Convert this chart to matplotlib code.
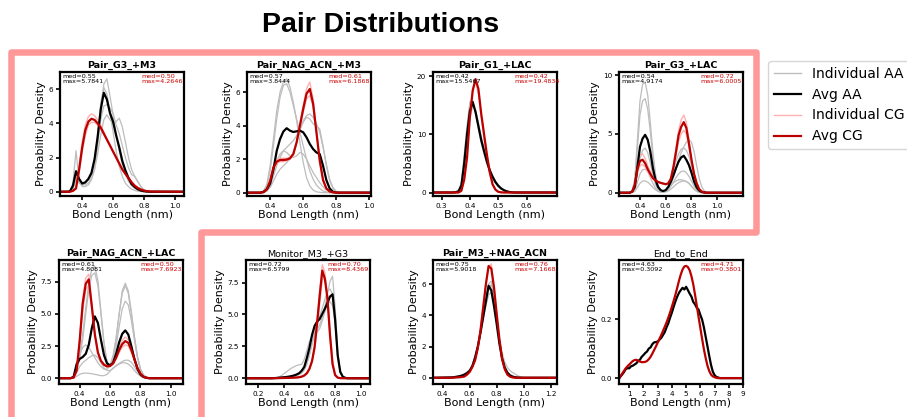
import matplotlib.pyplot as plt
from matplotlib.lines import Line2D

W, H = 907, 417

# ---- Pair_G3_+M3 ----
g3m3_x = [0.26, 0.30, 0.32, 0.34, 0.36, 0.38, 0.40, 0.42, 0.44, 0.46, 0.48, 0.50, 0.52, 0.54, 0.56,
          0.58, 0.60, 0.62, 0.64, 0.66, 0.68, 0.70, 0.72, 0.74, 0.76, 0.78, 0.80, 0.82, 0.84, 1.06]
g3m3_aa = [0, 0, 0.02, 0.35, 1.2, 0.75, 0.48, 0.55, 0.75, 1.1, 1.9, 3.2, 4.8, 5.7841, 5.4,
           4.6, 4.1, 3.3, 2.6, 1.8, 1.25, 0.8, 0.45, 0.28, 0.15, 0.07, 0.03, 0.01, 0, 0]
g3m3_cg = [0, 0, 0, 0.05, 0.2, 1.3, 2.6, 3.6, 4.1, 4.2646, 4.2, 4.0, 3.75, 3.4, 3.05,
           2.7, 2.35, 2.0, 1.65, 1.3, 1.05, 0.8, 0.55, 0.35, 0.22, 0.13, 0.07, 0.03, 0.01, 0]
g3m3_aa_runs = [
    [0, 0, 0.02, 0.5, 2.4, 0.6, 0.3, 0.3, 0.4, 0.7, 1.3, 2.6, 4.6, 6.3, 6.6, 5.6, 4.5, 3.3, 2.4, 1.6, 1.0, 0.6, 0.35, 0.2, 0.1, 0.05, 0.02, 0, 0, 0],
    [0, 0, 0, 0.3, 1.0, 0.7, 0.5, 0.5, 0.7, 1.0, 1.8, 3.3, 5.2, 6.1, 5.7, 4.6, 3.5, 2.4, 1.5, 0.9, 0.5, 0.3, 0.15, 0.08, 0.03, 0.01, 0, 0, 0, 0],
    [0, 0, 0, 0.2, 0.9, 0.6, 0.4, 0.4, 0.5, 0.8, 1.3, 2.2, 3.3, 4.2, 4.5, 4.2, 4.0, 4.1, 4.3, 3.8, 2.9, 2.0, 1.3, 0.9, 0.6, 0.3, 0.12, 0.04, 0.01, 0],
    [0, 0, 0, 0.15, 0.7, 0.5, 0.4, 0.5, 0.7, 1.1, 1.9, 3.0, 4.2, 5.0, 5.1, 4.9, 4.6, 3.9, 3.4, 2.7, 2.0, 1.4, 1.0, 0.9, 0.6, 0.3, 0.1, 0.03, 0, 0],
]
g3m3_cg_runs = [
    [0, 0, 0, 0.06, 0.25, 1.5, 2.9, 3.9, 4.4, 4.55, 4.45, 4.2, 3.9, 3.5, 3.1, 2.75, 2.35, 2.0, 1.65, 1.3, 1.0, 0.75, 0.5, 0.32, 0.2, 0.12, 0.06, 0.03, 0.01, 0],
    [0, 0, 0, 0.04, 0.15, 1.1, 2.3, 3.3, 3.9, 4.05, 4.05, 3.9, 3.65, 3.35, 3.0, 2.7, 2.35, 2.05, 1.7, 1.35, 1.1, 0.85, 0.6, 0.4, 0.25, 0.15, 0.08, 0.03, 0.01, 0],
]

# ---- Pair_NAG_ACN_+M3 ----
nagm3_x = [0.26, 0.34, 0.36, 0.38, 0.40, 0.42, 0.44, 0.46, 0.48, 0.50, 0.52, 0.54, 0.56, 0.58,
           0.60, 0.62, 0.64, 0.66, 0.68, 0.70, 0.72, 0.74, 0.76, 0.78, 0.80, 0.82, 1.01]
nagm3_aa = [0, 0, 0.05, 0.2, 0.55, 1.4, 2.5, 3.2, 3.65, 3.8444, 3.7, 3.62, 3.66, 3.7,
            3.6, 3.3, 2.9, 2.6, 2.4, 2.3, 1.6, 0.75, 0.25, 0.05, 0, 0, 0]
nagm3_cg = [0, 0, 0.03, 0.2, 0.7, 1.5, 1.85, 1.95, 1.95, 1.97, 2.05, 2.3, 3.0, 4.0,
            5.0, 5.9, 6.1868, 5.3, 3.6, 1.9, 0.75, 0.25, 0.07, 0.02, 0, 0, 0]
nagm3_aa_runs = [
    [0, 0, 0.1, 0.5, 1.6, 3.2, 4.9, 6.0, 6.6, 6.8, 6.3, 5.4, 4.3, 3.0, 1.8, 0.9, 0.4, 0.15, 0.05, 0.02, 0, 0, 0, 0, 0, 0, 0],
    [0, 0, 0.05, 0.4, 1.3, 2.8, 4.4, 5.7, 6.4, 6.5, 6.0, 5.2, 4.4, 3.6, 2.8, 2.0, 1.3, 0.8, 0.45, 0.25, 0.1, 0.04, 0, 0, 0, 0, 0],
    [0, 0, 0, 0.1, 0.3, 0.7, 1.1, 1.4, 1.6, 1.8, 2.0, 2.4, 3.0, 3.7, 4.3, 4.6, 4.7, 4.5, 4.1, 3.6, 2.7, 1.7, 0.8, 0.3, 0.08, 0.02, 0],
    [0, 0, 0, 0.1, 0.4, 1.0, 1.6, 2.1, 2.5, 2.7, 2.9, 3.1, 3.4, 3.8, 4.2, 4.5, 4.4, 4.1, 4.0, 3.8, 2.8, 1.6, 0.7, 0.25, 0.06, 0, 0],
    [0, 0, 0, 0.1, 0.5, 1.2, 1.9, 2.3, 2.5, 2.4, 2.2, 2.1, 2.2, 2.4, 2.3, 2.0, 1.6, 1.2, 0.9, 0.6, 0.35, 0.15, 0.05, 0, 0, 0, 0],
]
nagm3_cg_runs = [
    [0, 0, 0.04, 0.25, 0.8, 1.6, 1.95, 2.05, 2.05, 2.05, 2.1, 2.35, 3.0, 4.1, 5.2, 6.2, 6.6, 5.6, 3.7, 1.9, 0.7, 0.22, 0.06, 0.01, 0, 0, 0],
    [0, 0, 0.02, 0.15, 0.6, 1.4, 1.75, 1.85, 1.85, 1.9, 2.0, 2.25, 2.95, 3.9, 4.8, 5.6, 5.8, 5.1, 3.6, 2.0, 0.8, 0.28, 0.08, 0.02, 0, 0, 0],
]

# ---- Pair_G1_+LAC ----
g1lac_x = [0.27, 0.34, 0.35, 0.36, 0.37, 0.38, 0.39, 0.40, 0.41, 0.42, 0.43, 0.44, 0.45,
           0.46, 0.47, 0.48, 0.49, 0.50, 0.51, 0.52, 0.53, 0.54, 0.55, 0.56, 0.71]
g1lac_aa = [0, 0, 0.05, 0.2, 1.2, 5.0, 10.0, 14.0, 15.5467, 13.8, 11.4, 9.0, 7.1,
            5.3, 3.8, 2.7, 1.8, 1.15, 0.7, 0.4, 0.2, 0.08, 0.02, 0, 0]
g1lac_cg = [0, 0, 0, 0, 0.3, 2.2, 6.0, 13.0, 17.5, 19.4834, 17.8, 13.5, 10.0,
            6.5, 3.5, 1.4, 0.5, 0.12, 0.03, 0, 0, 0, 0, 0, 0]
g1lac_aa_runs = [
    [0, 0, 0.1, 0.4, 1.8, 6.5, 11.5, 15.6, 15.8, 13.5, 10.8, 8.5, 6.6, 4.9, 3.5, 2.4, 1.6, 1.0, 0.6, 0.32, 0.15, 0.06, 0.02, 0, 0],
    [0, 0, 0.02, 0.1, 0.8, 3.8, 8.5, 12.8, 14.8, 14.2, 12.0, 9.6, 7.6, 5.7, 4.1, 2.9, 2.0, 1.3, 0.8, 0.45, 0.22, 0.1, 0.03, 0, 0],
]
g1lac_cg_runs = [
    [0, 0, 0, 0, 0.4, 2.6, 6.6, 13.5, 18.0, 19.0, 17.0, 13.0, 9.2, 5.8, 3.1, 1.3, 0.45, 0.1, 0.02, 0, 0, 0, 0, 0, 0],
]

# ---- Pair_G3_+LAC ----
g3lac_x = [0.24, 0.32, 0.34, 0.36, 0.38, 0.40, 0.42, 0.44, 0.46, 0.48, 0.50, 0.52, 0.54, 0.56, 0.58, 0.60,
           0.62, 0.64, 0.66, 0.68, 0.70, 0.72, 0.74, 0.76, 0.78, 0.80, 0.82, 0.84, 0.86, 0.88, 0.90, 0.92, 1.2]
g3lac_aa = [0, 0, 0.1, 0.5, 2.2, 3.9, 4.6, 4.9174, 4.5, 3.5, 2.1, 1.1, 0.5, 0.22, 0.14, 0.22,
            0.5, 0.95, 1.5, 2.1, 2.65, 3.0, 3.14, 2.8, 2.35, 1.7, 0.95, 0.45, 0.18, 0.06, 0.02, 0, 0]
g3lac_cg = [0, 0, 0.1, 0.7, 2.0, 2.7, 2.8, 2.5, 2.0, 1.6, 1.25, 1.05, 0.92, 0.84, 0.78, 0.72,
            0.8, 1.2, 2.2, 3.5, 4.9, 5.6, 6.0005, 5.5, 4.2, 2.8, 1.6, 0.8, 0.3, 0.1, 0.02, 0, 0]
g3lac_aa_runs = [
    [0, 0, 0.2, 1.2, 4.5, 7.8, 9.2, 9.4, 8.3, 6.0, 3.5, 1.6, 0.6, 0.2, 0.08, 0.08, 0.15, 0.3, 0.5, 0.7, 0.85, 0.95, 1.0, 0.95, 0.8, 0.55, 0.3, 0.12, 0.04, 0.01, 0, 0, 0],
    [0, 0, 0.15, 1.0, 3.8, 6.6, 7.8, 8.0, 7.1, 5.2, 3.0, 1.4, 0.55, 0.2, 0.1, 0.15, 0.3, 0.55, 0.9, 1.3, 1.6, 1.8, 1.85, 1.7, 1.4, 1.0, 0.55, 0.25, 0.08, 0.02, 0, 0, 0],
    [0, 0, 0.05, 0.4, 1.6, 2.9, 3.6, 3.8, 3.4, 2.5, 1.5, 0.7, 0.3, 0.1, 0.05, 0.1, 0.3, 0.7, 1.3, 2.0, 2.8, 3.4, 3.9, 4.3, 4.5, 4.3, 3.5, 2.3, 1.2, 0.5, 0.15, 0, 0],
    [0, 0, 0.03, 0.25, 0.9, 1.6, 1.95, 2.0, 1.8, 1.3, 0.8, 0.4, 0.15, 0.05, 0.05, 0.15, 0.5, 1.1, 1.9, 2.7, 3.3, 3.7, 3.8, 3.6, 3.1, 2.3, 1.4, 0.7, 0.25, 0.07, 0.01, 0, 0],
    [0, 0, 0.01, 0.1, 0.45, 0.8, 1.0, 1.0, 0.9, 0.7, 0.45, 0.25, 0.1, 0.04, 0.03, 0.1, 0.3, 0.6, 0.85, 1.0, 1.1, 1.1, 1.05, 0.95, 0.8, 0.55, 0.3, 0.12, 0.04, 0, 0, 0, 0],
]
g3lac_cg_runs = [
    [0, 0, 0.12, 0.85, 2.4, 3.2, 3.3, 2.9, 2.3, 1.8, 1.35, 1.1, 0.95, 0.86, 0.8, 0.75, 0.82, 1.25, 2.3, 3.8, 5.3, 6.2, 6.6, 6.0, 4.5, 2.9, 1.6, 0.75, 0.28, 0.08, 0.02, 0, 0],
    [0, 0, 0.07, 0.55, 1.7, 2.3, 2.4, 2.2, 1.8, 1.45, 1.15, 0.98, 0.88, 0.8, 0.74, 0.7, 0.78, 1.15, 2.0, 3.2, 4.4, 5.0, 5.3, 5.0, 3.9, 2.7, 1.6, 0.85, 0.35, 0.12, 0.03, 0, 0],
]

# ---- Pair_NAG_ACN_+LAC ----
naglac_x = [0.26, 0.34, 0.36, 0.38, 0.40, 0.42, 0.44, 0.46, 0.48, 0.50, 0.52, 0.54, 0.56, 0.58, 0.60,
            0.62, 0.64, 0.66, 0.68, 0.70, 0.72, 0.74, 0.76, 0.78, 0.80, 0.82, 0.84, 0.86, 1.08]
naglac_aa = [0, 0, 0.1, 1.1, 1.5, 1.65, 1.9, 2.6, 3.9, 4.8081, 4.3, 3.0, 1.8, 1.15, 1.0,
             1.2, 1.9, 2.8, 3.45, 3.72, 3.4, 2.5, 1.5, 0.75, 0.3, 0.1, 0.03, 0, 0]
naglac_cg = [0, 0, 0.05, 0.6, 2.9, 5.8, 7.35, 7.6923, 5.6, 3.4, 2.0, 1.35, 1.05, 0.92, 0.95,
             1.15, 1.6, 2.2, 2.65, 2.89, 2.75, 2.2, 1.5, 0.8, 0.35, 0.12, 0.03, 0, 0]
naglac_aa_runs = [
    [0, 0, 0.1, 0.6, 1.8, 3.5, 5.5, 7.4, 8.5, 8.7, 7.6, 5.2, 2.8, 1.2, 0.9, 1.5, 3.0, 5.0, 6.8, 7.4, 6.8, 5.2, 3.3, 1.7, 0.7, 0.25, 0.07, 0, 0],
    [0, 0, 0.08, 0.5, 1.5, 3.0, 5.0, 6.9, 8.0, 8.2, 7.2, 5.0, 2.7, 1.3, 1.0, 1.4, 2.5, 4.0, 5.4, 6.0, 5.7, 4.5, 3.0, 1.6, 0.7, 0.25, 0.07, 0, 0],
    [0, 0, 0.05, 0.4, 0.9, 1.2, 1.4, 1.6, 1.75, 1.8, 1.6, 1.2, 0.8, 0.6, 0.6, 0.75, 0.95, 1.1, 1.2, 1.2, 1.1, 0.9, 0.6, 0.35, 0.15, 0.05, 0.01, 0, 0],
    [0, 0, 0.02, 0.15, 0.3, 0.38, 0.4, 0.38, 0.35, 0.3, 0.25, 0.2, 0.2, 0.3, 0.55, 0.8, 1.0, 1.15, 1.3, 1.4, 1.4, 1.25, 0.9, 0.5, 0.2, 0.06, 0.01, 0, 0],
    [0, 0, 0.1, 0.8, 1.8, 2.4, 2.6, 2.4, 2.0, 1.6, 1.2, 0.9, 0.7, 0.7, 1.0, 1.8, 3.2, 5.0, 6.6, 7.2, 6.6, 5.0, 3.2, 1.7, 0.7, 0.25, 0.07, 0, 0],
]
naglac_cg_runs = [
    [0, 0, 0.06, 0.7, 3.2, 6.2, 7.8, 8.1, 5.8, 3.4, 1.95, 1.3, 1.0, 0.88, 0.92, 1.1, 1.5, 2.0, 2.4, 2.6, 2.5, 2.0, 1.4, 0.75, 0.32, 0.1, 0.03, 0, 0],
    [0, 0, 0.04, 0.5, 2.6, 5.3, 6.9, 7.2, 5.4, 3.4, 2.05, 1.4, 1.1, 0.95, 1.0, 1.2, 1.7, 2.4, 2.95, 3.2, 3.0, 2.4, 1.6, 0.85, 0.38, 0.12, 0.03, 0, 0],
]

# ---- Monitor_M3_+G3 ----
m3g3_x = [0.10, 0.30, 0.34, 0.36, 0.38, 0.40, 0.42, 0.44, 0.46, 0.48, 0.50, 0.52, 0.54, 0.56, 0.58, 0.60,
          0.62, 0.64, 0.66, 0.68, 0.70, 0.72, 0.74, 0.76, 0.78, 0.80, 0.82, 0.84, 0.86, 0.88, 0.90, 1.07]
m3g3_aa = [0, 0, 0.02, 0.04, 0.06, 0.08, 0.1, 0.13, 0.17, 0.22, 0.3, 0.4, 0.6, 0.9, 1.6, 2.4,
           3.4, 4.1, 4.45, 4.65, 5.05, 5.45, 5.9, 6.4, 6.5799, 4.6, 1.8, 0.5, 0.12, 0.03, 0, 0]
m3g3_cg = [0, 0, 0.01, 0.01, 0.02, 0.02, 0.03, 0.03, 0.04, 0.05, 0.06, 0.08, 0.13, 0.22, 0.4, 0.75,
           1.35, 2.45, 4.4, 6.5, 8.4369, 7.8, 6.3, 3.4, 1.1, 0.25, 0.05, 0.01, 0, 0, 0, 0]
m3g3_aa_runs = [
    [0, 0, 0.01, 0.02, 0.03, 0.05, 0.07, 0.1, 0.13, 0.16, 0.2, 0.3, 0.45, 0.7, 1.2, 1.9, 2.7, 3.4, 3.8, 4.2, 4.8, 5.6, 6.6, 7.6, 8.0, 5.6, 2.1, 0.5, 0.1, 0.02, 0, 0],
    [0, 0, 0.05, 0.1, 0.2, 0.35, 0.5, 0.65, 0.8, 0.9, 1.0, 1.05, 1.1, 1.5, 2.2, 2.9, 3.3, 3.5, 3.6, 3.9, 4.5, 5.2, 5.8, 6.0, 5.7, 4.3, 1.8, 0.5, 0.1, 0.02, 0, 0],
    [0, 0, 0.01, 0.02, 0.03, 0.05, 0.07, 0.1, 0.13, 0.17, 0.22, 0.3, 0.42, 0.65, 1.1, 1.8, 2.7, 3.6, 4.3, 4.9, 5.5, 6.2, 6.8, 7.0, 6.6, 4.4, 1.7, 0.45, 0.1, 0.02, 0, 0],
]
m3g3_cg_runs = [
    [0, 0, 0, 0, 0.01, 0.01, 0.02, 0.02, 0.03, 0.04, 0.05, 0.07, 0.12, 0.2, 0.35, 0.65, 1.3, 2.4, 4.6, 6.9, 8.9, 8.3, 6.1, 3.2, 1.1, 0.25, 0.05, 0.01, 0, 0, 0, 0],
    [0, 0, 0, 0, 0.01, 0.01, 0.02, 0.02, 0.03, 0.04, 0.06, 0.09, 0.15, 0.25, 0.45, 0.7, 1.3, 2.2, 3.9, 5.9, 7.7, 8.0, 6.6, 3.8, 1.4, 0.35, 0.07, 0.01, 0, 0, 0, 0],
]

# ---- Pair_M3_+NAG_ACN ----
m3nag_x = [0.33, 0.46, 0.48, 0.50, 0.52, 0.54, 0.56, 0.58, 0.60, 0.62, 0.64, 0.66, 0.68, 0.70, 0.72,
           0.74, 0.76, 0.78, 0.80, 0.82, 0.84, 0.86, 0.88, 0.90, 0.92, 0.94, 0.96, 0.98, 1.00, 1.25]
m3nag_aa = [0, 0.02, 0.03, 0.06, 0.09, 0.13, 0.2, 0.3, 0.45, 0.75, 1.3, 2.0, 2.9, 3.9, 4.9,
            5.9018, 5.6, 4.6, 3.45, 2.2, 1.25, 0.65, 0.32, 0.15, 0.07, 0.03, 0.01, 0, 0, 0]
m3nag_cg = [0, 0, 0.01, 0.02, 0.03, 0.05, 0.08, 0.2, 0.38, 0.7, 1.12, 1.9, 3.0, 4.5, 6.0,
            7.1668, 7.0, 5.8, 4.1, 2.5, 1.2, 0.55, 0.2, 0.07, 0.02, 0, 0, 0, 0, 0]
m3nag_aa_runs = [
    [0, 0.02, 0.03, 0.05, 0.08, 0.12, 0.18, 0.27, 0.42, 0.7, 1.2, 1.9, 2.9, 4.0, 5.1, 6.0, 6.2, 5.2, 3.6, 2.2, 1.2, 0.6, 0.28, 0.12, 0.05, 0.02, 0.01, 0, 0, 0],
    [0, 0.04, 0.06, 0.09, 0.13, 0.18, 0.25, 0.35, 0.52, 0.85, 1.4, 2.1, 2.9, 3.8, 4.6, 5.3, 5.5, 4.9, 3.7, 2.5, 1.6, 1.0, 0.65, 0.45, 0.32, 0.22, 0.12, 0.05, 0.01, 0],
    [0, 0.02, 0.03, 0.05, 0.08, 0.12, 0.18, 0.28, 0.45, 0.75, 1.25, 1.95, 2.8, 3.8, 4.8, 5.6, 6.0, 5.4, 3.9, 2.4, 1.3, 0.65, 0.3, 0.13, 0.05, 0.02, 0.01, 0, 0, 0],
]
m3nag_cg_runs = [
    [0, 0, 0, 0.02, 0.03, 0.05, 0.1, 0.2, 0.36, 0.68, 1.1, 1.85, 3.3, 4.7, 6.1, 7.1, 7.3, 5.9, 4.0, 2.4, 1.15, 0.48, 0.18, 0.06, 0.02, 0, 0, 0, 0, 0],
]

# ---- End_to_End ----
e2e_x = [0.3, 0.5, 0.625, 0.75, 0.875, 1.0, 1.125, 1.25, 1.375, 1.5, 1.625, 1.75, 1.875, 2.0, 2.125,
         2.25, 2.375, 2.5, 2.625, 2.75, 2.875, 3.0, 3.125, 3.25, 3.375, 3.5, 3.625, 3.75, 3.875, 4.0,
         4.125, 4.25, 4.375, 4.5, 4.625, 4.75, 4.875, 5.0, 5.125, 5.25, 5.375, 5.5, 5.625, 5.75, 5.875,
         6.0, 6.125, 6.25, 6.375, 6.5, 6.625, 6.75, 6.875, 7.0, 7.125, 7.25, 7.375, 7.5, 9.0]
e2e_aa = [0, 0.012, 0.02, 0.03, 0.034, 0.033, 0.04, 0.042, 0.046, 0.05, 0.058, 0.062, 0.072, 0.078, 0.085,
          0.09, 0.1, 0.104, 0.115, 0.121, 0.122, 0.124, 0.13, 0.136, 0.146, 0.156, 0.172, 0.186, 0.205, 0.222,
          0.242, 0.26, 0.276, 0.289, 0.298, 0.306, 0.3, 0.3092, 0.298, 0.286, 0.276, 0.258, 0.25, 0.238, 0.232,
          0.214, 0.198, 0.172, 0.14, 0.108, 0.075, 0.045, 0.022, 0.01, 0.004, 0.002, 0, 0, 0]
e2e_cg = [0, 0.015, 0.024, 0.033, 0.04, 0.046, 0.052, 0.058, 0.061, 0.062, 0.059, 0.056, 0.054, 0.054, 0.055,
          0.058, 0.064, 0.072, 0.083, 0.095, 0.107, 0.12, 0.133, 0.146, 0.16, 0.174, 0.189, 0.205, 0.223, 0.242,
          0.262, 0.283, 0.306, 0.33, 0.351, 0.368, 0.378, 0.3801, 0.376, 0.365, 0.345, 0.318, 0.283, 0.245, 0.207,
          0.17, 0.133, 0.098, 0.068, 0.042, 0.024, 0.012, 0.006, 0.003, 0.001, 0, 0, 0, 0]

titles = ['Pair_G3_+M3', 'Pair_NAG_ACN_+M3', 'Pair_G1_+LAC', 'Pair_G3_+LAC',
          'Pair_NAG_ACN_+LAC', 'Monitor_M3_+G3', 'Pair_M3_+NAG_ACN', 'End_to_End']
aa_med = [0.55, 0.57, 0.42, 0.54, 0.61, 0.72, 0.75, 4.63]
aa_max = [5.7841, 3.8444, 15.5467, 4.9174, 4.8081, 6.5799, 5.9018, 0.3092]
cg_med = [0.50, 0.61, 0.42, 0.72, 0.50, 0.70, 0.76, 4.71]
cg_max = [4.2646, 6.1868, 19.4834, 6.0005, 7.6923, 8.4369, 7.1668, 0.3801]

series = [
    (g3m3_x, g3m3_aa, g3m3_cg, g3m3_aa_runs, g3m3_cg_runs),
    (nagm3_x, nagm3_aa, nagm3_cg, nagm3_aa_runs, nagm3_cg_runs),
    (g1lac_x, g1lac_aa, g1lac_cg, g1lac_aa_runs, g1lac_cg_runs),
    (g3lac_x, g3lac_aa, g3lac_cg, g3lac_aa_runs, g3lac_cg_runs),
    (naglac_x, naglac_aa, naglac_cg, naglac_aa_runs, naglac_cg_runs),
    (m3g3_x, m3g3_aa, m3g3_cg, m3g3_aa_runs, m3g3_cg_runs),
    (m3nag_x, m3nag_aa, m3nag_cg, m3nag_aa_runs, m3nag_cg_runs),
    (e2e_x, e2e_aa, e2e_cg, [], []),
]

# axes boxes in pixels: left, top
boxes = [(60, 72), (247, 72), (433, 72), (619, 72),
         (59, 260), (246, 260), (433, 260), (619, 260)]
limits = [
    ((0.256, 1.06), (-0.25, 7.0), [0.4, 0.6, 0.8, 1.0], [0, 2, 4, 6]),
    ((0.26, 1.01), (-0.2, 7.2), [0.4, 0.6, 0.8, 1.0], [0, 2, 4, 6]),
    ((0.27, 0.707), (-0.6, 20.7), [0.3, 0.4, 0.5, 0.6], [0, 10, 20]),
    ((0.237, 1.2), (-0.28, 10.26), [0.4, 0.6, 0.8, 1.0], [0, 5, 10]),
    ((0.264, 1.08), (-0.45, 9.2), [0.4, 0.6, 0.8, 1.0], [0, 2.5, 5, 7.5]),
    ((0.105, 1.072), (-0.45, 9.27), [0.2, 0.4, 0.6, 0.8, 1.0], [0, 2.5, 5, 7.5]),
    ((0.328, 1.247), (-0.4, 7.55), [0.4, 0.6, 0.8, 1.0, 1.2], [0, 2, 4, 6]),
    ((0.28, 9.0), (-0.02, 0.4), list(range(1, 10)), [0.0, 0.2]),
]

AA_IND = '#bdbdbd'
CG_IND = '#ffb0b0'
CG_AVG = '#bb0000'

fig = plt.figure(figsize=(W / 100, H / 100), dpi=100)

for i, (x, aa, cg, aa_runs, cg_runs) in enumerate(series):
    left, top = boxes[i]
    ax = fig.add_axes([left / W, 1 - (top + 124) / H, 124 / W, 124 / H])
    for run in aa_runs:
        ax.plot(x, run, color=AA_IND, lw=0.9)
    for run in cg_runs:
        ax.plot(x, run, color=CG_IND, lw=1.0)
    ax.plot(x, aa, color='black', lw=1.6)
    ax.plot(x, cg, color=CG_AVG, lw=1.6)

    xlim, ylim, xt, yt = limits[i]
    ax.set_xlim(xlim)
    ax.set_ylim(ylim)
    ax.set_xticks(xt)
    ax.set_yticks(yt)
    ax.tick_params(labelsize=5.2, length=3, width=1.2, pad=2)
    for sp in ax.spines.values():
        sp.set_linewidth(1.6)

    weight = 'normal' if titles[i] in ('Monitor_M3_+G3', 'End_to_End') else 'bold'
    ax.set_title(titles[i], fontsize=6.8, fontweight=weight, pad=3)
    ax.set_xlabel('Bond Length (nm)', fontsize=8, labelpad=1)
    ax.set_ylabel('Probability Density', fontsize=8, labelpad=2)

    ax.text(0.02, 0.985, f'med={aa_med[i]:.2f}\nmax={aa_max[i]:.4f}', transform=ax.transAxes,
            fontsize=4.6, va='top', ha='left', color='black', linespacing=1.05)
    ax.text(0.655, 0.985, f'med={cg_med[i]:.2f}\nmax={cg_max[i]:.4f}', transform=ax.transAxes,
            fontsize=4.6, va='top', ha='left', color='#cc0000', linespacing=1.05)

fig.text(381 / W, 1 - 25 / H, 'Pair Distributions', ha='center', va='center',
         fontsize=20.5, fontweight='bold', family='Liberation Sans')

# pink outline round the panels
px = [201, 201, 756, 756, 10.5, 10.5]
py = [440, 232, 232, 52, 52, 440]
fig.add_artist(Line2D([v / W for v in px], [1 - v / H for v in py], transform=fig.transFigure,
                      color='#ff9999', lw=4.7, solid_joinstyle='round', solid_capstyle='butt'))

handles = [Line2D([], [], color=AA_IND, lw=1.0),
           Line2D([], [], color='black', lw=1.6),
           Line2D([], [], color=CG_IND, lw=1.0),
           Line2D([], [], color=CG_AVG, lw=1.6)]
fig.legend(handles, ['Individual AA', 'Avg AA', 'Individual CG', 'Avg CG'],
           loc='upper left', bbox_to_anchor=(768 / W, 1 - 61 / H), borderaxespad=0,
           fontsize=10, frameon=True)

fig.savefig('out.png', dpi=100)
